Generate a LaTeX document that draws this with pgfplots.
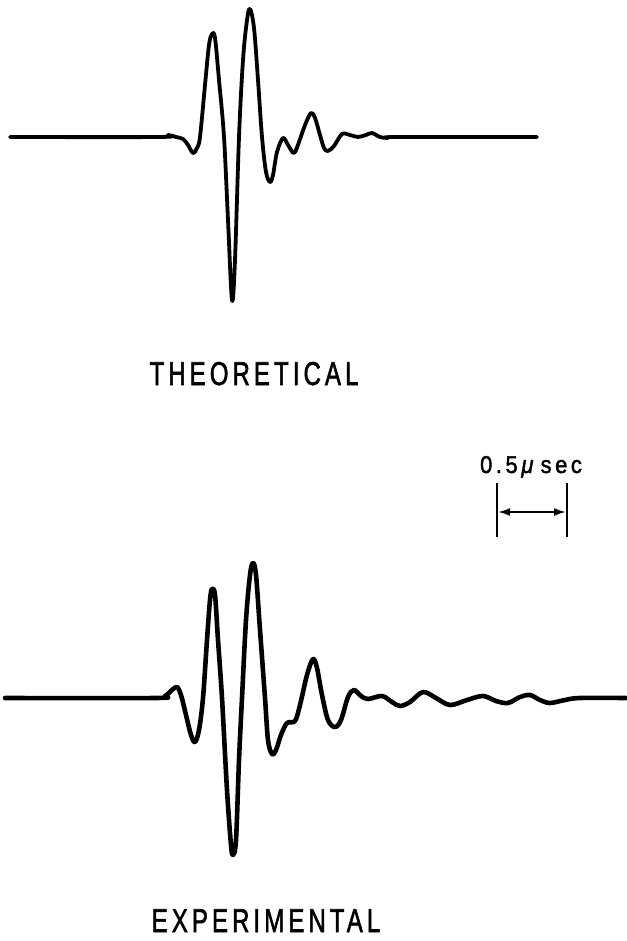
\documentclass[border=0pt]{standalone}
\usepackage{pgfplots}
\pgfplotsset{compat=1.18}
\usepackage{fontspec}
\setmainfont{Liberation Sans}
\newfontfamily\lab[LetterSpace=17,FakeBold=2]{Liberation Sans}
\newfontfamily\sclab[LetterSpace=16,FakeBold=1.8]{Liberation Sans}
\usetikzlibrary{arrows.meta}
\begin{document}
\begin{tikzpicture}
\useasboundingbox (0,0) rectangle (626pt,941pt);
\begin{axis}[at={(0,0)},anchor=south west,
  scale only axis, width=626pt, height=941pt,
  xmin=0, xmax=626, ymin=0, ymax=941, y dir=reverse,
  hide axis, clip=false]
% theoretical
\addplot[black, line width=3.8pt, smooth, tension=0.55, line cap=round, line join=round] coordinates {
(10,137)(160,137)(168,135)(176,137)(183,139)(188,145)(193,153)(197,148)(200,137)(205,85)(209,45)(212,34)(215,38)(219,80)(224,137)(228,220)(232,300)(235,260)(239,137)(243,60)(247,20)(250,9)(254,28)(258,80)(262,137)(266,172)(270,182)(273,175)(277,152)(283,138)(288,145)(294,153)(299,142)(305,125)(311,113)(315,118)(320,135)(324,148)(328,151)(334,146)(342,134)(350,135)(358,137)(366,135)(372,133)(380,137)(388,138)(397,137)(537,137)
};
% experimental
\addplot[black, line width=4.6pt, smooth, tension=0.55, line cap=round, line join=round] coordinates {
(5,698)(155,698)(165,696)(172,690)(177,687)(181,695)(186,715)(191,735)(195,742)(199,730)(203,698)(207,640)(210,600)(212,589)(215,595)(218,640)(222,698)(227,790)(231,845)(233,855)(236,840)(239,760)(242,698)(246,620)(250,575)(253,563)(256,575)(260,630)(265,698)(268,740)(272,754)(276,750)(281,735)(287,723)(295,721)(300,705)(307,675)(313,659)(317,668)(322,695)(328,720)(335,727)(341,720)(348,697)(354,690)(361,696)(368,699)(382,696)(392,702)(400,706)(410,702)(423,692)(436,698)(450,705)(467,700)(483,696)(496,701)(508,703)(520,697)(530,695)(540,700)(550,703)(565,700)(580,698)(626,698)
};
% scale bar
\addplot[black, line width=2.4pt] coordinates {(497,483)(497,537)};
\addplot[black, line width=2.4pt] coordinates {(567,483)(567,537)};
\addplot[black, line width=2pt, {Latex[length=12pt,width=8pt]}-{Latex[length=12pt,width=8pt]}] coordinates {(498,512)(566,512)};
\node[anchor=base, inner sep=0pt] at (axis cs:531,473) {\scalebox{1}[1.1]{\sclab\fontsize{22}{24}\selectfont 0.5\,\textit{μ}\,sec}};
\node[anchor=base, inner sep=0pt] at (axis cs:254,385) {\scalebox{0.8}[1.1]{\lab\fontsize{30}{34}\selectfont THEORETICAL}};
\node[anchor=base, inner sep=0pt] at (axis cs:266,932) {\scalebox{0.8}[1.1]{\lab\fontsize{30}{34}\selectfont EXPERIMENTAL}};
\end{axis}
\end{tikzpicture}
\end{document}
